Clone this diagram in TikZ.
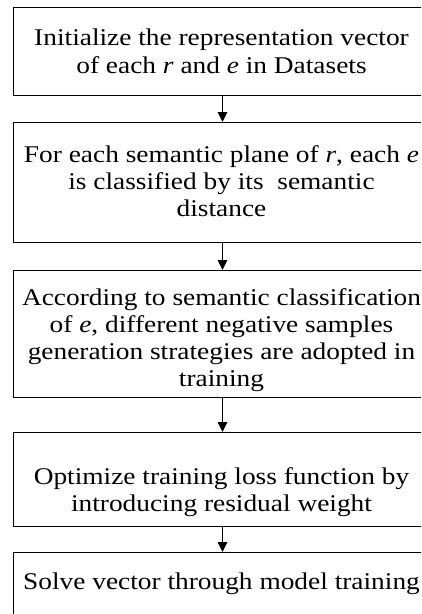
\documentclass[tikz,border=0pt]{standalone}
\usepackage{fontspec}
\setmainfont{Liberation Serif}[FakeStretch=1.14]
\usetikzlibrary{arrows.meta}
\tikzset{
  box/.style={draw=black, line width=1pt, rectangle, inner sep=0pt, minimum width=419pt, anchor=north west},
  txt/.style={anchor=north, inner sep=0pt, align=center, font=\fontsize{24}{27}\selectfont},
  flow/.style={draw=black, line width=1pt, -{Triangle[width=9.5pt,length=10pt]}}
}
\begin{document}
\begin{tikzpicture}[x=1pt,y=-1pt]
\useasboundingbox (0,0) rectangle (421,614);
\clip (0,0) rectangle (421,614);
\node[box, minimum height=88pt]  (b1) at (12.5,7) {};
\node[box, minimum height=120pt] (b2) at (12.5,122) {};
\node[box, minimum height=127pt] (b3) at (12.5,270) {};
\node[box, minimum height=94pt]  (b4) at (12.5,432) {};
\node[box, minimum height=88pt]  (b5) at (12.5,552) {};
\node[txt, font=\fontsize{24}{28}\selectfont] (t1) at (221.5,28.5) {Initialize the representation vector\\of each \textit{r} and \textit{e} in Datasets};
\node[txt] (t2) at (221.5,145) {For each semantic plane of \textit{r}, each \textit{e}\\is classified by its\ \ semantic\\distance};
\node[txt] (t3) at (221.5,288.5) {According to semantic classification\\of \textit{e}, different negative samples\\generation strategies are adopted in\\training};
\node[txt] (t4) at (221.5,467.5) {Optimize training loss function by\\introducing residual weight};
\node[txt] (t5) at (221.5,573) {Solve vector through model training};
\draw[flow] (b1.south) -- (b2.north);
\draw[flow] (b2.south) -- (b3.north);
\draw[flow] (b3.south) -- (b4.north);
\draw[flow] (b4.south) -- (b5.north);
\end{tikzpicture}
\end{document}
